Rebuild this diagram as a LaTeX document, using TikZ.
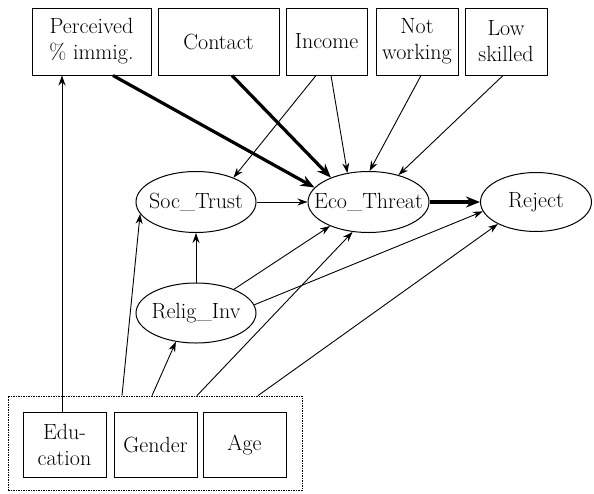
\documentclass[tikz,border=0pt]{standalone}
\usetikzlibrary{arrows.meta,shapes.geometric}
\begin{document}
\begin{tikzpicture}[x=1pt,y=-1pt,
  every node/.style={font=\fontsize{22}{26}\selectfont, align=center, inner sep=0pt},
  varbox/.style={draw, line width=1pt, rectangle, minimum height=67pt},
  lowbox/.style={draw, line width=1pt, rectangle, minimum width=83pt, minimum height=65pt},
  latent/.style={draw, line width=1pt, ellipse, inner xsep=-14pt, minimum width=120pt, minimum height=61pt},
  groupbox/.style={draw, line width=0.8pt, dash pattern=on 1.5pt off 1pt, rectangle, minimum width=294pt, minimum height=94pt},
  link/.style={line width=0.9pt, -{Stealth[length=10pt,width=7pt]}},
  strong/.style={line width=3.2pt, -{Stealth[length=14pt,width=11pt]}}]
\useasboundingbox (0,0) rectangle (594,493);

% observed predictors
\node[varbox, minimum width=119pt] (perc) at (91.5,41.5) {Perceived\\\% immig.};
\node[varbox, minimum width=121pt] (cont) at (218.5,41.5) {Contact};
\node[varbox, minimum width=81pt] (inc) at (326.5,41.5) {Income};
\node[varbox, minimum width=82pt] (notw) at (417,41.5) {Not\\working};
\node[varbox, minimum width=82pt] (lows) at (506,41.5) {Low\\skilled};

% latent constructs
\node[latent] (soc) at (196,202) {Soc\_Trust};
\node[latent, minimum width=121pt] (eco) at (368.5,202) {Eco\_Threat};
\node[latent, minimum width=111pt, minimum height=59pt] (rej) at (536,202) {Reject};
\node[latent, minimum height=60pt] (rel) at (196,313) {Relig\_Inv};

% demographic controls
\node[groupbox] (ctrl) at (155,443) {};
\node[lowbox] (edu) at (64.5,444.5) {Edu-\\cation};
\node[lowbox] (gen) at (155.5,444.5) {Gender};
\node[lowbox] (age) at (244.5,444.5) {Age};

% paths
\draw[link] ([xshift=-2.5pt]edu.north) -- ([xshift=-2.5pt]edu.north |- perc.south);
\draw[strong] ([xshift=21.5pt]perc.south) -- (eco.165);
\draw[strong] ([xshift=13.5pt]cont.south) -- (eco.147);
\draw[link] ([xshift=-10.5pt]inc.south) -- (soc.33);
\draw[link] ([xshift=4.5pt]inc.south) -- (eco.126);
\draw[link] ([xshift=4pt]notw.south) -- (eco.88);
\draw[link] ([xshift=-3pt]lows.south) -- (eco.42);
\draw[link] (soc.east) -- (eco.west);
\draw[strong] (eco.east) -- (rej.west);
\draw[link] (rel.north) -- (soc.south);
\draw[link] (rel.32) -- (eco.212);
\draw[link] (rel.8) -- (rej.190);
\draw[link] ([xshift=-33pt]ctrl.north) -- (soc.192);
\draw[link] ([xshift=-3pt]ctrl.north) -- (rel.235);
\draw[link] ([xshift=42pt]ctrl.north) -- (eco.242);
\draw[link] ([xshift=103pt]ctrl.north) -- (rej.210);
\end{tikzpicture}
\end{document}
